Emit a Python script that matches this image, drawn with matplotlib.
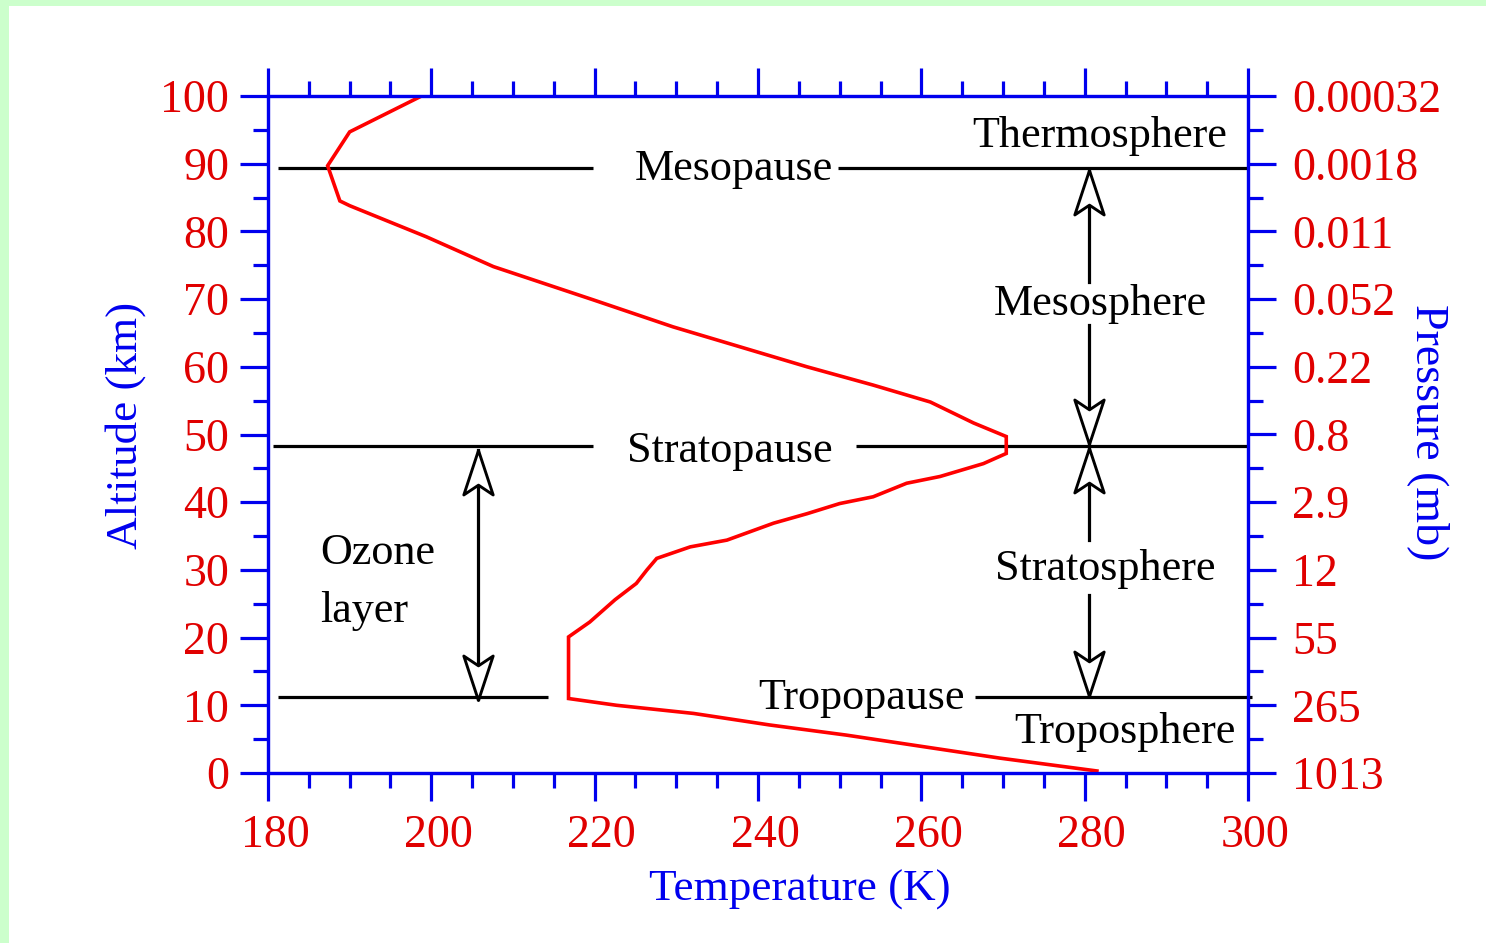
import matplotlib
matplotlib.use('Agg')
import matplotlib.pyplot as plt
from matplotlib.path import Path
from matplotlib.patches import Rectangle
from matplotlib.ticker import MultipleLocator, FixedLocator
from matplotlib.transforms import ScaledTranslation

plt.rcParams['font.family'] = ['Liberation Serif', 'DejaVu Serif']

# ---------------- data ----------------
altitude_km = [0.3, 2.2, 3.9, 5.6, 7.1, 8.8, 10.0, 11.0, 17.9, 20.1, 22.3, 25.6,
               28.0, 30.0, 31.7, 33.4, 34.4, 36.9, 38.3, 39.8, 40.8, 42.8, 43.8,
               45.7, 47.2, 49.7, 51.7, 54.8, 57.3, 60.0, 65.9, 69.9, 74.8, 79.2,
               83.8, 84.5, 89.7, 94.7, 100.0]
temperature_K = [281.5, 269.6, 260.2, 250.8, 241.4, 232.1, 222.7, 216.8, 216.8,
                 216.8, 219.4, 222.5, 225.1, 226.4, 227.6, 231.7, 236.2, 241.9,
                 246.0, 250.0, 254.1, 258.2, 262.3, 267.6, 270.4, 270.4, 266.4,
                 261.1, 254.1, 246.0, 229.6, 219.8, 207.6, 199.4, 190.0, 188.8,
                 187.3, 190.0, 198.8]

temp_ticks = [180, 200, 220, 240, 260, 280, 300]
alt_ticks = [0, 10, 20, 30, 40, 50, 60, 70, 80, 90, 100]
pressure_labels = ['1013', '265', '55', '12', '2.9', '0.8', '0.22', '0.052',
                   '0.011', '0.0018', '0.00032']

# boundary lines: (name, altitude, left segment, right segment)
boundary_names = ['Mesopause', 'Stratopause', 'Tropopause']
boundary_alt = [89.4, 48.3, 11.2]
boundary_left = [(181.2, 219.8), (180.6, 219.8), (181.2, 214.3)]
boundary_right = [(249.8, 300.0), (252.0, 300.0), (266.6, 300.5)]
boundary_text_xy = [(237.0, 87.6), (236.6, 45.9), (252.7, 9.4)]

layer_names = ['Thermosphere', 'Mesosphere', 'Stratosphere', 'Troposphere']
layer_text_xy = [(281.9, 92.5), (281.9, 67.7), (282.5, 28.5), (284.9, 4.4)]

# ---------------- style ----------------
BLUE = '#0000ee'
RED = '#e00000'
FS = 31.8
TFS = 33

fig = plt.figure(figsize=(14.86, 9.43), dpi=100, facecolor='#ccffcc')
fig.add_artist(Rectangle((9 / 1486, 0), 1, 937 / 943, transform=fig.transFigure,
                         facecolor='white', edgecolor='none', zorder=-10))

ax = fig.add_axes([268 / 1486, 170 / 943, 980 / 1486, 677 / 943])
ax.set_facecolor('white')
ax.set_xlim(180, 300)
ax.set_ylim(0, 100)

ax2 = ax.twinx()
ax2.set_ylim(0, 100)

for a in (ax, ax2):
    for s in a.spines.values():
        s.set_color(BLUE)
        s.set_linewidth(2.3)

ax.xaxis.set_major_locator(FixedLocator(temp_ticks))
ax.xaxis.set_minor_locator(MultipleLocator(5))
ax.yaxis.set_major_locator(FixedLocator(alt_ticks))
ax.yaxis.set_minor_locator(MultipleLocator(5))
ax2.yaxis.set_major_locator(FixedLocator(alt_ticks))
ax2.yaxis.set_minor_locator(MultipleLocator(5))
ax2.set_yticklabels(pressure_labels)

ax.tick_params(axis='x', which='both', direction='out', top=True, bottom=True,
               color=BLUE, labelcolor=RED, labelsize=TFS, width=2.3, pad=10)
ax.tick_params(axis='y', which='both', direction='out', left=True, right=False,
               color=BLUE, labelcolor=RED, labelsize=TFS, width=2.3, pad=8)
ax2.tick_params(axis='y', which='both', direction='out', right=True, left=False,
                color=BLUE, labelcolor=RED, labelsize=TFS, width=2.3, pad=12)
for a in (ax, ax2):
    a.tick_params(which='major', length=20)
    a.tick_params(which='minor', length=11)

offset = ScaledTranslation(7 / 100, 0, fig.dpi_scale_trans)
for lab in ax.get_xticklabels():
    lab.set_transform(lab.get_transform() + offset)

ax.set_xlabel('Temperature (K)', color=BLUE, fontsize=32.5, va='center', ha='center')
ax.xaxis.set_label_coords(0.543, -0.1728)
ax.set_ylabel('Altitude (km)', color=BLUE, fontsize=32.5, va='center', ha='center')
ax.yaxis.set_label_coords(-0.1459, 0.514)
ax2.set_ylabel('Pressure (mb)', color=BLUE, fontsize=33, rotation=270,
               va='center', ha='center')
ax2.yaxis.set_label_coords(1.1837, 0.5037)

# ---------------- curve ----------------
ax.plot(temperature_K, altitude_km, color='red', lw=2.6, zorder=4,
        solid_joinstyle='miter')

# ---------------- boundaries ----------------
for name, z, (l0, l1), (r0, r1), (tx, ty) in zip(boundary_names, boundary_alt,
                                                 boundary_left, boundary_right,
                                                 boundary_text_xy):
    ax.plot([l0, l1], [z, z], color='black', lw=2.3, zorder=3,
            solid_capstyle='butt', clip_on=False)
    ax.plot([r0, r1], [z, z], color='black', lw=2.3, zorder=3,
            solid_capstyle='butt', clip_on=False)
    ax.text(tx, ty, name, fontsize=FS, ha='center', va='baseline', color='black')

for name, (tx, ty) in zip(layer_names, layer_text_xy):
    ax.text(tx, ty, name, fontsize=FS, ha='center', va='baseline', color='black')

ax.text(186.4, 30.9, 'Ozone', fontsize=FS, ha='left', va='baseline')
ax.text(186.4, 22.3, 'layer', fontsize=FS, ha='left', va='baseline')

# ---------------- arrows ----------------
up_head = Path([(0, 0), (-0.33, -1), (0, -0.78), (0.33, -1), (0, 0)],
               [Path.MOVETO, Path.LINETO, Path.LINETO, Path.LINETO, Path.CLOSEPOLY])
down_head = Path([(0, 0), (-0.33, 1), (0, 0.78), (0.33, 1), (0, 0)],
                 [Path.MOVETO, Path.LINETO, Path.LINETO, Path.LINETO, Path.CLOSEPOLY])

def head(x, z, path):
    ax.plot([x], [z], marker=path, ms=64, mfc='white', mec='black', mew=2.1,
            zorder=6, linestyle='none')

# ozone layer arrow
ax.plot([205.7, 205.7], [11.0, 47.7], color='black', lw=2.3, zorder=5)
head(205.7, 47.7, up_head)
head(205.7, 10.8, down_head)

# mesosphere arrow
ax.plot([280.5, 280.5], [89.1, 72.5], color='black', lw=2.3, zorder=5)
ax.plot([280.5, 280.5], [66.2, 48.6], color='black', lw=2.3, zorder=5)
head(280.5, 89.1, up_head)
head(280.5, 48.6, down_head)

# stratosphere arrow
ax.plot([280.5, 280.5], [48.0, 34.4], color='black', lw=2.3, zorder=5)
ax.plot([280.5, 280.5], [26.3, 11.4], color='black', lw=2.3, zorder=5)
head(280.5, 48.0, up_head)
head(280.5, 11.4, down_head)

fig.savefig('out.png', dpi=100, facecolor=fig.get_facecolor())
